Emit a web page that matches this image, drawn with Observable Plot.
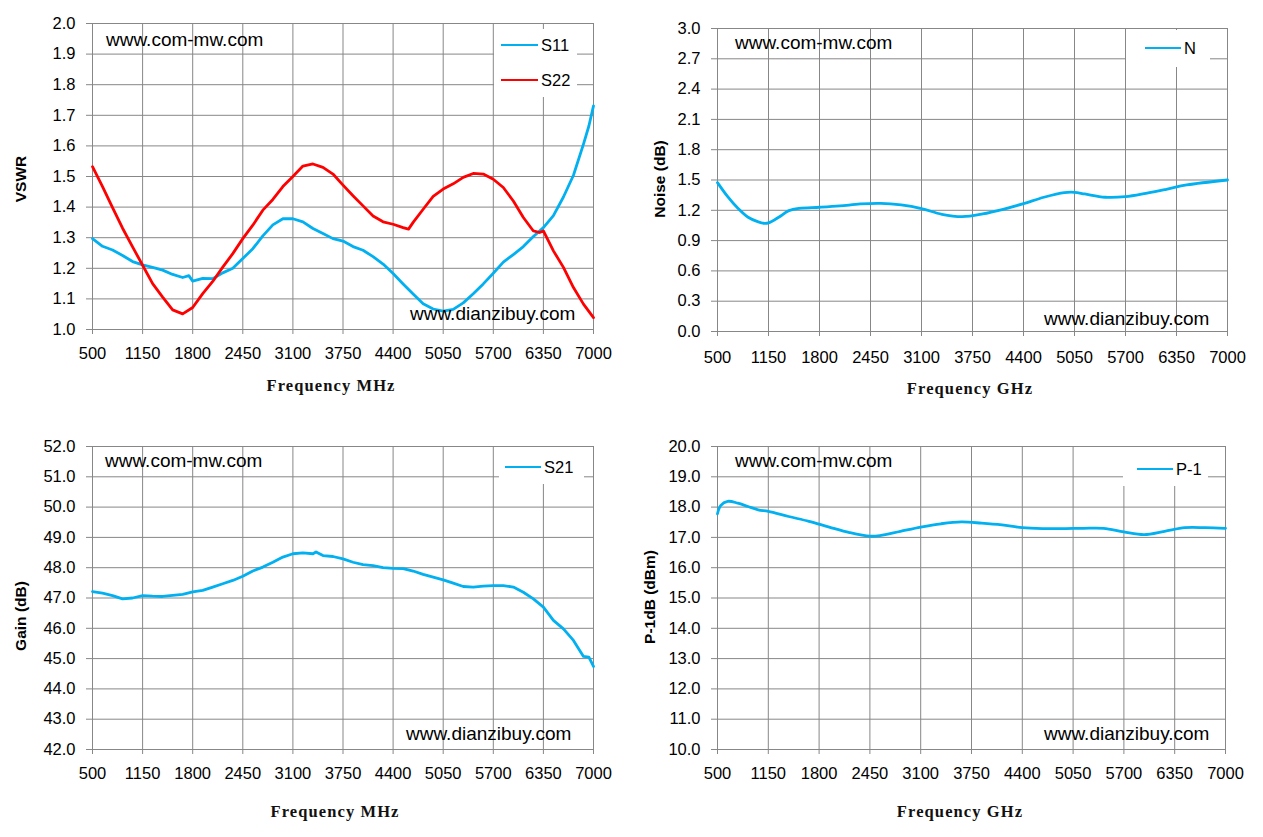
<!DOCTYPE html>
<html>
<head>
<meta charset="utf-8">
<script src="https://cdn.jsdelivr.net/npm/d3@7"></script>
<script src="https://cdn.jsdelivr.net/npm/@observablehq/plot@0.6"></script>
<style>
  body { margin: 0; background: #fff; }
  #wrap { position: relative; width: 1263px; height: 837px; overflow: hidden; background: #fff; }
  #wrap svg { position: absolute; }
  .ov { position: absolute; white-space: nowrap; line-height: 1; }
  .wm { font-family: "Liberation Sans", Arial, sans-serif; font-size: 19px; color: #000; transform: translateY(-50%); }
  .xt { font-family: "Liberation Serif", "Times New Roman", serif; font-weight: bold; font-size: 16.5px; letter-spacing: 1.1px; color: #111; transform: translate(-50%, -50%); }
  .yt { font-family: "Liberation Sans", Arial, sans-serif; font-weight: bold; font-size: 15.5px; color: #000; transform: translate(-50%, -50%) rotate(-90deg); }
  .lg { position: absolute; background: #fff; }
  .lgline { position: absolute; height: 0; border-top: 2.8px solid; }
  .lgtxt { position: absolute; font-family: "Liberation Sans", Arial, sans-serif; font-size: 16.5px; line-height: 1; transform: translateY(-50%); color: #000; }
</style>
</head>
<body>
<div id="wrap"></div>
<script>
// ---------- data ----------
const xTicks = [500, 1150, 1800, 2450, 3100, 3750, 4400, 5050, 5700, 6350, 7000];

const vswrTicks = [1.0, 1.1, 1.2, 1.3, 1.4, 1.5, 1.6, 1.7, 1.8, 1.9, 2.0];
const noiseTicks = [0.0, 0.3, 0.6, 0.9, 1.2, 1.5, 1.8, 2.1, 2.4, 2.7, 3.0];
const gainTicks = [42, 43, 44, 45, 46, 47, 48, 49, 50, 51, 52];
const p1Ticks = [10, 11, 12, 13, 14, 15, 16, 17, 18, 19, 20];

const s11Freq = [500, 630, 760, 890, 1020, 1150, 1280, 1410, 1540, 1670, 1750, 1800, 1930, 2060, 2190, 2320, 2450, 2580, 2710, 2840, 2970, 3100, 3230, 3360, 3490, 3620, 3750, 3880, 4010, 4140, 4270, 4400, 4530, 4660, 4790, 4920, 5050, 5180, 5310, 5440, 5570, 5700, 5830, 5960, 6090, 6220, 6350, 6480, 6610, 6740, 6870, 6940, 7000];
const s11 = [1.297, 1.272, 1.260, 1.242, 1.222, 1.211, 1.203, 1.194, 1.180, 1.170, 1.176, 1.158, 1.167, 1.166, 1.185, 1.200, 1.232, 1.264, 1.306, 1.342, 1.362, 1.362, 1.352, 1.330, 1.314, 1.297, 1.289, 1.271, 1.259, 1.238, 1.214, 1.183, 1.149, 1.116, 1.084, 1.067, 1.060, 1.066, 1.087, 1.117, 1.149, 1.184, 1.220, 1.245, 1.271, 1.304, 1.333, 1.372, 1.433, 1.504, 1.606, 1.665, 1.731];

const s22Freq = [500, 630, 760, 890, 1020, 1150, 1280, 1410, 1540, 1670, 1800, 1930, 2060, 2190, 2320, 2450, 2580, 2710, 2840, 2970, 3100, 3230, 3360, 3490, 3620, 3750, 3880, 4010, 4140, 4270, 4400, 4530, 4600, 4660, 4790, 4920, 5050, 5180, 5310, 5440, 5570, 5700, 5830, 5960, 6090, 6220, 6300, 6350, 6480, 6610, 6740, 6870, 7000];
const s22 = [1.532, 1.467, 1.398, 1.331, 1.270, 1.210, 1.150, 1.106, 1.064, 1.051, 1.072, 1.117, 1.157, 1.204, 1.248, 1.297, 1.341, 1.390, 1.425, 1.467, 1.500, 1.534, 1.541, 1.530, 1.508, 1.472, 1.437, 1.404, 1.371, 1.352, 1.344, 1.333, 1.328, 1.350, 1.393, 1.435, 1.459, 1.476, 1.497, 1.510, 1.508, 1.491, 1.464, 1.420, 1.366, 1.322, 1.317, 1.322, 1.257, 1.203, 1.137, 1.083, 1.039];

const noiseFreq = [500, 630, 760, 890, 1020, 1100, 1150, 1280, 1410, 1540, 1800, 2060, 2320, 2580, 2840, 3100, 3360, 3620, 3880, 4140, 4400, 4660, 4920, 5050, 5180, 5440, 5700, 5960, 6220, 6480, 7000];
const noise = [1.474, 1.335, 1.220, 1.131, 1.085, 1.070, 1.075, 1.131, 1.197, 1.220, 1.230, 1.243, 1.263, 1.269, 1.253, 1.217, 1.160, 1.137, 1.164, 1.210, 1.266, 1.329, 1.375, 1.378, 1.362, 1.329, 1.335, 1.368, 1.408, 1.451, 1.500];

const gainFreq = [500, 630, 760, 890, 1020, 1150, 1280, 1410, 1540, 1670, 1800, 1930, 2060, 2190, 2320, 2450, 2580, 2710, 2840, 2970, 3100, 3230, 3360, 3400, 3490, 3620, 3750, 3880, 4010, 4140, 4270, 4400, 4530, 4660, 4790, 4920, 5050, 5180, 5310, 5440, 5570, 5700, 5830, 5960, 6090, 6220, 6350, 6480, 6610, 6740, 6870, 6940, 7000];
const gain = [47.21, 47.16, 47.08, 46.97, 47.00, 47.08, 47.06, 47.05, 47.09, 47.12, 47.20, 47.25, 47.36, 47.47, 47.58, 47.72, 47.89, 48.02, 48.18, 48.35, 48.46, 48.49, 48.46, 48.52, 48.40, 48.37, 48.29, 48.18, 48.10, 48.07, 48.00, 47.98, 47.97, 47.89, 47.78, 47.69, 47.60, 47.49, 47.38, 47.36, 47.39, 47.41, 47.41, 47.36, 47.19, 46.97, 46.70, 46.26, 45.98, 45.60, 45.07, 45.05, 44.74];

const p1Freq = [500, 540, 630, 760, 890, 1020, 1150, 1410, 1670, 1930, 2190, 2450, 2580, 2840, 3100, 3360, 3620, 3880, 4140, 4400, 4660, 4920, 5180, 5440, 5700, 5960, 6220, 6480, 6740, 7000];
const p1 = [17.78, 18.05, 18.19, 18.13, 18.02, 17.91, 17.86, 17.69, 17.53, 17.34, 17.16, 17.04, 17.06, 17.20, 17.34, 17.45, 17.51, 17.47, 17.41, 17.32, 17.29, 17.29, 17.30, 17.30, 17.18, 17.09, 17.20, 17.32, 17.32, 17.30];

const BLUE = "#00B0F0", RED = "#FF0000", GRID = "#878787";

// ---------- drawing ----------
const wrap = document.getElementById("wrap");
const rows = (fs, vs) => fs.map((f, i) => ({f, v: vs[i]}));

function panel({left, top, width, height, ml, mr, mt, mb, yDomain, yTicks, series, curve, xPad}) {
  const svg = Plot.plot({
    width, height,
    marginLeft: ml, marginRight: mr, marginTop: mt, marginBottom: mb,
    x: {domain: [500, 7000]},
    y: {domain: yDomain},
    style: {fontFamily: "'Liberation Sans', Arial, sans-serif", fontSize: "16.5px", color: "#000", background: "transparent", overflow: "visible"},
    marks: [
      Plot.gridX(xTicks, {stroke: GRID, strokeOpacity: 1, strokeWidth: 1}),
      Plot.gridY(yTicks, {stroke: GRID, strokeOpacity: 1, strokeWidth: 1}),
      Plot.axisX(xTicks, {tickSize: 5, tickPadding: xPad, stroke: GRID, fill: "#000", tickFormat: d3.format("d"), label: null}),
      Plot.axisY(yTicks, {tickSize: 6, tickPadding: 11, stroke: GRID, fill: "#000", tickFormat: d3.format(".1f"), label: null}),
      ...series.map(s => Plot.line(rows(s.f, s.v), {x: "f", y: "v", stroke: s.color, strokeWidth: 2.8, curve}))
    ]
  });
  svg.style.left = left + "px";
  svg.style.top = top + "px";
  wrap.appendChild(svg);
}

panel({left: 0, top: 0, width: 631, height: 418, ml: 92, mr: 38, mt: 23, mb: 89,
  yDomain: [1, 2], yTicks: vswrTicks, xPad: 13, curve: "linear",
  series: [{f: s11Freq, v: s11, color: BLUE}, {f: s22Freq, v: s22, color: RED}]});
panel({left: 631, top: 0, width: 632, height: 418, ml: 86, mr: 36, mt: 28, mb: 87,
  yDomain: [0, 3], yTicks: noiseTicks, xPad: 15, curve: "catmull-rom",
  series: [{f: noiseFreq, v: noise, color: BLUE}]});
panel({left: 0, top: 418, width: 631, height: 419, ml: 92, mr: 38, mt: 28, mb: 88,
  yDomain: [42, 52], yTicks: gainTicks, xPad: 13, curve: "linear",
  series: [{f: gainFreq, v: gain, color: BLUE}]});
panel({left: 631, top: 418, width: 632, height: 419, ml: 86, mr: 38, mt: 28, mb: 88,
  yDomain: [10, 20], yTicks: p1Ticks, xPad: 13, curve: "catmull-rom",
  series: [{f: p1Freq, v: p1, color: BLUE}]});

// ---------- overlays: legends, watermarks, titles ----------
function addDiv(cls, text, css) {
  const d = document.createElement("div");
  d.className = cls;
  if (text != null) d.textContent = text;
  Object.assign(d.style, css);
  wrap.appendChild(d);
  return d;
}
function legend(box, items) {
  addDiv("lg", null, {left: box[0] + "px", top: box[1] + "px", width: box[2] + "px", height: box[3] + "px"});
  items.forEach(it => {
    addDiv("lgline", null, {left: it.x + "px", top: (it.y - 1.4) + "px", width: it.w + "px", borderTopColor: it.color});
    addDiv("lgtxt", it.label, {left: (it.x + it.w + 3) + "px", top: it.y + "px"});
  });
}
legend([494, 29, 83, 68], [{x: 501, y: 45, w: 37, color: BLUE, label: "S11"}, {x: 501, y: 80, w: 37, color: RED, label: "S22"}]);
legend([1126, 30, 84, 37], [{x: 1145, y: 48, w: 36, color: BLUE, label: "N"}]);
legend([499, 447, 85, 37], [{x: 505, y: 467, w: 36, color: BLUE, label: "S21"}]);
legend([1123, 447, 85, 39], [{x: 1137, y: 469, w: 36, color: BLUE, label: "P-1"}]);

const marks1 = [[106, 39], [735, 42], [105, 460], [735, 460]];
const marks2 = [[410, 313], [1044, 318], [406, 733], [1044, 733]];
marks1.forEach(([x, y]) => addDiv("ov wm", "www.com-mw.com", {left: x + "px", top: y + "px"}));
marks2.forEach(([x, y]) => addDiv("ov wm", "www.dianzibuy.com", {left: x + "px", top: y + "px"}));

addDiv("ov xt", "Frequency MHz", {left: "331px", top: "386px"});
addDiv("ov xt", "Frequency GHz", {left: "970px", top: "389px"});
addDiv("ov xt", "Frequency MHz", {left: "335px", top: "812px"});
addDiv("ov xt", "Frequency GHz", {left: "960px", top: "812px"});

addDiv("ov yt", "VSWR", {left: "21px", top: "179px"});
addDiv("ov yt", "Noise (dB)", {left: "660px", top: "179px"});
addDiv("ov yt", "Gain (dB)", {left: "21px", top: "616px"});
addDiv("ov yt", "P-1dB (dBm)", {left: "650px", top: "597px"});
</script>
</body>
</html>
